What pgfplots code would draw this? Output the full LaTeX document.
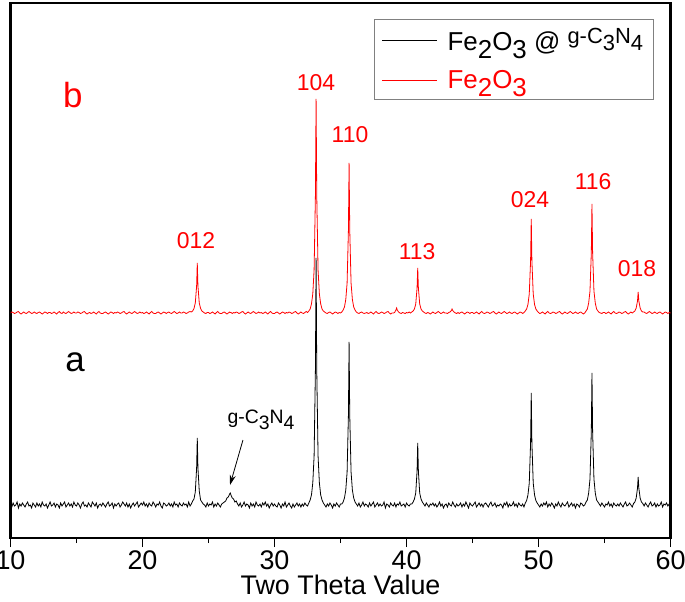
\documentclass[border=0pt]{standalone}
\usepackage{fontspec}
\setmainfont{Liberation Sans}
\usepackage{pgfplots}
\pgfplotsset{compat=1.18}
\usepackage{pgfplotstable}
\usetikzlibrary{arrows.meta}
\newcommand{\lo}[1]{\raisebox{-0.3em}{#1}}
\newcommand{\hi}[1]{\raisebox{0.28em}{#1}}
\newcommand{\fs}[1]{\fontsize{#1}{#1}\selectfont}

\pgfplotstableread[row sep=\\]{
x a b\\
10.0 34 225\\ 10.1 31 226\\ 10.2 35 225.5\\ 10.3 32 224.5\\ 10.4 33 225\\ 10.5 36 226\\ 10.6 30 226.5\\ 10.7 34 225\\ 10.8 32 224\\ 10.9 35 225\\
11.0 33 226\\ 11.1 31 225\\ 11.2 34 224.5\\ 11.3 36 225.5\\ 11.4 32 226.5\\ 11.5 33 225.5\\ 11.6 30 224.5\\ 11.7 35 225\\ 11.8 33 226\\ 11.9 31 225\\
12.0 35 224.5\\ 12.1 32 225.5\\ 12.2 34 226\\ 12.3 31 225\\ 12.4 36 224\\ 12.5 33 225\\ 12.6 32 226\\ 12.7 34 225.5\\ 12.8 30 224.5\\ 12.9 33 225.5\\
13.0 36 225.5\\ 13.1 32 224.5\\ 13.2 33 225\\ 13.3 35 226\\ 13.4 31 225\\ 13.5 34 224\\ 13.6 33 225.5\\ 13.7 30 226.5\\ 13.8 35 225\\ 13.9 32 224.5\\
14.0 34 226\\ 14.1 36 225\\ 14.2 31 224.5\\ 14.3 33 225.5\\ 14.4 35 226.5\\ 14.5 32 225.5\\ 14.6 34 224.5\\ 14.7 31 225\\ 14.8 36 226\\ 14.9 33 225\\
15.0 32 225\\ 15.1 35 226\\ 15.2 33 225.5\\ 15.3 30 224.5\\ 15.4 34 225\\ 15.5 36 226\\ 15.6 32 226.5\\ 15.7 33 225\\ 15.8 31 224\\ 15.9 35 225\\
16.0 33 225.5\\ 16.1 31 224.5\\ 16.2 36 225\\ 16.3 34 226\\ 16.4 32 225\\ 16.5 35 224\\ 16.6 30 225.5\\ 16.7 33 226.5\\ 16.8 34 225\\ 16.9 32 224.5\\
17.0 35 224.5\\ 17.1 33 225.5\\ 17.2 31 226\\ 17.3 34 225\\ 17.4 36 224\\ 17.5 32 225\\ 17.6 33 226\\ 17.7 35 225.5\\ 17.8 30 224.5\\ 17.9 34 225.5\\
18.0 32 225\\ 18.1 34 226\\ 18.2 35 225.5\\ 18.3 31 224.5\\ 18.4 33 225\\ 18.5 36 226\\ 18.6 34 226.5\\ 18.7 32 225\\ 18.8 35 224\\ 18.9 31 225\\
19.0 34 226\\ 19.1 30 225\\ 19.2 33 224.5\\ 19.3 35 225.5\\ 19.4 32 226.5\\ 19.5 34 225.5\\ 19.6 36 224.5\\ 19.7 31 225\\ 19.8 33 226\\ 19.9 35 225\\
20.0 33 225.5\\ 20.1 36 224.5\\ 20.2 32 225\\ 20.3 34 226\\ 20.4 31 225\\ 20.5 35 224\\ 20.6 33 225.5\\ 20.7 32 226.5\\ 20.8 36 225\\ 20.9 34 224.5\\
21.0 31 224.5\\ 21.1 34 225.5\\ 21.2 33 226\\ 21.3 36 225\\ 21.4 32 224\\ 21.5 30 225\\ 21.6 35 226\\ 21.7 34 225.5\\ 21.8 32 224.5\\ 21.9 33 225.5\\
22.0 35 226\\ 22.1 32 225\\ 22.2 34 224.5\\ 22.3 31 225.5\\ 22.4 36 226.5\\ 22.5 33 225.5\\ 22.6 34 224.5\\ 22.7 31 225\\ 22.8 35 226\\ 22.9 33 225\\
23.0 32 225\\ 23.1 35 226\\ 23.2 33 225.5\\ 23.3 34 224.5\\ 23.4 31 225\\ 23.5 36 226\\ 23.6 32 226.5\\
23.7 34 226\\ 23.8 37 227\\ 23.9 39 229.5\\ 24.0 46 235\\ 24.1 70 252\\ 24.15 100 275\\ 24.2 70 252\\ 24.3 47 235\\ 24.4 38 229.5\\ 24.5 36 227\\ 24.6 34 226\\
24.7 33 225\\ 24.8 31 224.5\\ 24.9 35 225.5\\
25.0 32 225.5\\ 25.1 34 224.5\\ 25.2 33 225\\ 25.3 36 226\\ 25.4 31 225\\ 25.5 34 224\\ 25.6 32 225.5\\ 25.7 35 226.5\\ 25.8 33 225\\ 25.9 31 224.5\\
26.0 34 224.5\\ 26.1 35 225.5\\ 26.2 36 226\\ 26.3 37 225\\ 26.4 40 224\\ 26.5 41 225\\ 26.6 44 226\\ 26.65 45 225.5\\ 26.7 43 225.5\\ 26.8 40 224.5\\ 26.9 39 225.5\\
27.0 36 225\\ 27.1 37 226\\ 27.2 34 225.5\\ 27.3 32 224.5\\ 27.4 35 225\\ 27.5 31 226\\ 27.6 33 226.5\\ 27.7 36 225\\ 27.8 32 224\\ 27.9 34 225\\
28.0 33 226\\ 28.1 30 225\\ 28.2 35 224.5\\ 28.3 32 225.5\\ 28.4 34 226.5\\ 28.5 31 225.5\\ 28.6 36 224.5\\ 28.7 33 225\\ 28.8 32 226\\ 28.9 34 225\\
29.0 31 225.5\\ 29.1 35 224.5\\ 29.2 33 225\\ 29.3 36 226\\ 29.4 32 225\\ 29.5 34 224\\ 29.6 30 225.5\\ 29.7 33 226.5\\ 29.8 35 225\\ 29.9 32 224.5\\
30.0 34 224.5\\ 30.1 32 225.5\\ 30.2 31 226\\ 30.3 35 225\\ 30.4 33 224\\ 30.5 30 225\\ 30.6 34 226\\ 30.7 32 225.5\\ 30.8 36 224.5\\ 30.9 31 225.5\\
31.0 33 225\\ 31.1 35 226\\ 31.2 32 225.5\\ 31.3 30 224.5\\ 31.4 34 225\\ 31.5 31 226\\ 31.6 33 226.5\\ 31.7 35 225\\ 31.8 32 224\\ 31.9 34 225\\
32.0 31 226\\ 32.1 34 225\\ 32.2 32 224.5\\ 32.3 35 225.5\\ 32.4 33 226.5\\ 32.5 32 225.5\\ 32.6 35 227\\ 32.7 38 229\\ 32.8 43 234\\ 32.9 55 244\\ 33.0 82 268\\ 33.1 169 343\\ 33.15 280 439\\ 33.2 169 343\\ 33.3 82 268\\ 33.4 55 244\\ 33.5 43 234\\ 33.6 38 229\\ 33.7 35 227\\
33.8 33 226\\ 33.9 31 225\\
34.0 34 224.5\\ 34.1 32 225.5\\ 34.2 35 226\\ 34.3 33 225\\ 34.4 30 224\\ 34.5 34 225\\ 34.6 32 226\\ 34.7 35 225.5\\ 34.8 33 224.5\\ 34.9 31 225.5\\
35.0 34 225\\ 35.1 34 226\\ 35.2 36 228\\ 35.3 40 231\\ 35.4 48 238.5\\ 35.5 66 255\\ 35.6 123 308\\ 35.65 196 375\\ 35.7 123 308\\ 35.8 66 255\\ 35.9 48 238.5\\ 36.0 40 231\\ 36.1 36 228\\ 36.2 34 226\\
36.3 32 225\\ 36.4 35 224.5\\ 36.5 31 225.5\\ 36.6 33 226\\ 36.7 36 225\\ 36.8 32 224.5\\ 36.9 34 225\\
37.0 33 225.5\\ 37.1 31 224.5\\ 37.2 35 225\\ 37.3 32 226\\ 37.4 34 225\\ 37.5 36 224\\ 37.6 31 225.5\\ 37.7 33 226.5\\ 37.8 35 225\\ 37.9 32 224.5\\
38.0 34 225\\ 38.1 32 226\\ 38.2 33 225.5\\ 38.3 36 224.5\\ 38.4 30 225\\ 38.5 34 226\\ 38.6 33 226.5\\ 38.7 31 225\\ 38.8 35 224\\ 38.9 33 225\\
39.0 32 225\\ 39.1 35 225.5\\ 39.2 31 228\\ 39.25 33 230\\ 39.3 34 228\\ 39.4 33 226\\ 39.5 36 225\\ 39.6 32 224.5\\ 39.7 33 225.5\\ 39.8 34 225\\ 39.9 31 224.5\\
40.0 35 225.5\\ 40.1 33 225\\ 40.2 32 226\\ 40.3 34 225\\ 40.4 34 226\\ 40.5 36 227\\ 40.6 39 229\\ 40.7 45 234\\ 40.8 67 250\\ 40.85 95 270\\ 40.9 67 250\\ 41.0 45 234\\ 41.1 39 229\\ 41.2 36 227\\ 41.3 34 226\\
41.4 32 225\\ 41.5 35 224.5\\ 41.6 33 225.5\\ 41.7 31 225\\ 41.8 34 224\\ 41.9 33 225\\
42.0 35 226\\ 42.1 32 225\\ 42.2 34 224.5\\ 42.3 31 225.5\\ 42.4 33 226.5\\ 42.5 36 225.5\\ 42.6 32 224.5\\ 42.7 34 225\\ 42.8 30 226\\ 42.9 33 225\\
43.0 34 225\\ 43.1 31 224.5\\ 43.2 35 225.5\\ 43.3 33 226\\ 43.4 32 227.5\\ 43.45 34 229\\ 43.5 36 227.5\\ 43.6 33 226\\ 43.7 31 225\\ 43.8 34 224.5\\ 43.9 32 225.5\\
44.0 33 224.5\\ 44.1 35 225.5\\ 44.2 31 226\\ 44.3 34 225\\ 44.4 32 224\\ 44.5 36 225\\ 44.6 33 226\\ 44.7 30 225.5\\ 44.8 35 224.5\\ 44.9 33 225.5\\
45.0 32 225.5\\ 45.1 34 224.5\\ 45.2 36 225\\ 45.3 31 226\\ 45.4 33 225\\ 45.5 35 224\\ 45.6 32 225.5\\ 45.7 34 226.5\\ 45.8 31 225\\ 45.9 34 224.5\\
46.0 35 225\\ 46.1 33 226\\ 46.2 31 225.5\\ 46.3 34 224.5\\ 46.4 36 225\\ 46.5 32 226\\ 46.6 33 226.5\\ 46.7 35 225\\ 46.8 31 224\\ 46.9 33 225\\
47.0 32 226\\ 47.1 34 225\\ 47.2 33 224.5\\ 47.3 30 225.5\\ 47.4 35 226.5\\ 47.5 33 225.5\\ 47.6 36 224.5\\ 47.7 31 225\\ 47.8 34 226\\ 47.9 32 225\\
48.0 33 224.5\\ 48.1 36 225.5\\ 48.2 32 226\\ 48.3 34 225\\ 48.4 31 224\\ 48.5 35 225\\ 48.6 33 226\\ 48.7 32 225.5\\ 48.8 34 224.5\\ 48.9 31 225.5\\
49.0 35 227\\ 49.1 37.5 229\\ 49.2 43 233.5\\ 49.3 55 244\\ 49.4 95 277\\ 49.45 145 319\\ 49.5 95 277\\ 49.6 55 244\\ 49.7 43 233.5\\ 49.8 37.5 229\\ 49.9 35 227\\
50.0 33 225.5\\ 50.1 31 224.5\\ 50.2 34 225\\ 50.3 32 226\\ 50.4 35 225\\ 50.5 33 224\\ 50.6 36 225.5\\ 50.7 31 226.5\\ 50.8 34 225\\ 50.9 32 224.5\\
51.0 35 225\\ 51.1 33 226\\ 51.2 30 225.5\\ 51.3 34 224.5\\ 51.4 32 225\\ 51.5 36 226\\ 51.6 33 226.5\\ 51.7 31 225\\ 51.8 35 224\\ 51.9 33 225\\
52.0 32 226\\ 52.1 34 225\\ 52.2 36 224.5\\ 52.3 31 225.5\\ 52.4 33 226.5\\ 52.5 35 225.5\\ 52.6 32 224.5\\ 52.7 34 225\\ 52.8 30 226\\ 52.9 34 225\\
53.0 33 224.5\\ 53.1 31 225.5\\ 53.2 35 226\\ 53.3 34 225\\ 53.4 32 224\\ 53.5 33 225\\ 53.6 36 227\\ 53.7 38 229\\ 53.8 45 235\\ 53.9 59 247\\ 54.0 106 285\\ 54.05 165 334\\ 54.1 106 285\\ 54.2 59 247\\ 54.3 45 235\\ 54.4 38 229\\ 54.5 36 227\\
54.6 34 225.5\\ 54.7 32 225\\ 54.8 35 224.5\\ 54.9 33 225.5\\
55.0 31 225.5\\ 55.1 34 224.5\\ 55.2 33 225\\ 55.3 36 226\\ 55.4 32 225\\ 55.5 34 224\\ 55.6 31 225.5\\ 55.7 35 226.5\\ 55.8 33 225\\ 55.9 32 224.5\\
56.0 34 225\\ 56.1 32 226\\ 56.2 35 225.5\\ 56.3 33 224.5\\ 56.4 31 225\\ 56.5 34 226\\ 56.6 36 226.5\\ 56.7 32 225\\ 56.8 33 224\\ 56.9 35 225\\
57.0 33 226\\ 57.1 31 225\\ 57.2 34.5 226\\ 57.3 36 227\\ 57.4 40 230\\ 57.5 50 237\\ 57.55 61 246\\ 57.6 50 237\\ 57.7 40 230\\ 57.8 36 227\\ 57.9 34.5 226\\
58.0 32 226\\ 58.1 35 225\\ 58.2 33 224.5\\ 58.3 31 225.5\\ 58.4 34 226.5\\ 58.5 36 225.5\\ 58.6 32 224.5\\ 58.7 33 225\\ 58.8 35 226\\ 58.9 31 225\\
59.0 34 224.5\\ 59.1 32 225.5\\ 59.2 33 226\\ 59.3 36 225\\ 59.4 31 224\\ 59.5 34 225\\ 59.6 33 226\\ 59.7 35 225.5\\ 59.8 32 224.5\\ 59.9 34 225.5\\
60.0 33 225\\
}\xrd

\begin{document}
\begin{tikzpicture}
\begin{axis}[
  name=ax, scale only axis, width=660bp, height=535bp,
  xmin=10, xmax=60, ymin=0, ymax=535,
  xtick={10,20,...,60}, minor xtick={15,25,...,55}, ytick=\empty,
  xtick pos=left, tick align=outside,
  major tick length=9bp, minor tick length=5bp,
  every tick/.append style={line width=1.6bp, black},
  axis line style={line width=2.2bp},
  ticklabel style={font=\fs{27}},
  /pgf/number format/assume math mode=true,
  xlabel={Two Theta Value}, xlabel style={font=\fs{27}, yshift=1bp},
  reverse legend,
  legend style={at={(0.974,0.970)}, anchor=north east, draw=gray, line width=0.6bp,
    fill=white, font=\fs{26}, inner xsep=8bp, inner ysep=7bp, row sep=14bp,
    cells={anchor=west}},
  legend image code/.code={\draw[#1, line width=0.9bp] (0bp,0bp) -- (55bp,0bp); \path (63bp,0bp);},
]
\addplot[red, line width=0.8bp] table[x=x, y=b] {\xrd};
\addlegendentry{\textcolor{red}{Fe\lo{2}O\lo{3}}}
\addplot[black, line width=0.8bp] table[x=x, y=a] {\xrd};
\addlegendentry{Fe\lo{2}O\lo{3} @ \hi{\fs{22}g-C\lo{3}N\lo{4}}}

\node[red, font=\fs{35}] at (axis cs:14.73,443) {b};
\node[font=\fs{35}] at (axis cs:14.89,176) {a};
\node[red, font=\fs{23}] at (axis cs:24.05,297) {012};
\node[red, font=\fs{23}] at (axis cs:33.14,455) {104};
\node[red, font=\fs{23}] at (axis cs:35.72,403) {110};
\node[red, font=\fs{23}] at (axis cs:40.80,286) {113};
\node[red, font=\fs{23}] at (axis cs:49.36,338) {024};
\node[red, font=\fs{23}] at (axis cs:54.13,356) {116};
\node[red, font=\fs{23}] at (axis cs:57.46,269) {018};
\node[font=\fs{19.5}] at (axis cs:28.98,118) {g-C\lo{3}N\lo{4}};
\draw[-{Stealth[length=10bp,width=6bp]}, line width=0.8bp] (axis cs:27.61,98) -- (axis cs:26.63,53);
\end{axis}
\pgfresetboundingbox
\path[use as bounding box] ([xshift=-10.5bp,yshift=-63bp]ax.south west) rectangle ([xshift=14.5bp,yshift=3bp]ax.north east);
\end{tikzpicture}
\end{document}
